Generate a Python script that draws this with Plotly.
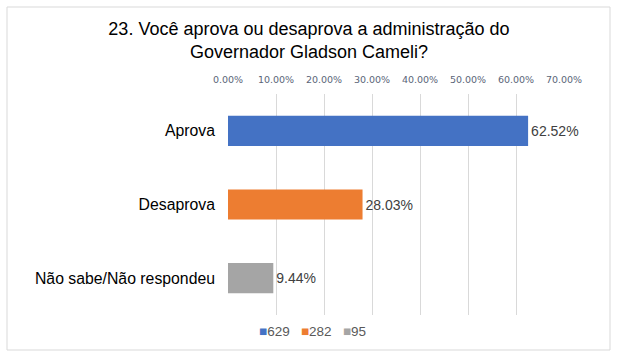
import plotly.graph_objects as go

categories = ["Aprova", "Desaprova", "Não sabe/Não respondeu"]
values = [0.6252, 0.2803, 0.0944]
counts = ["629", "282", "95"]
colors = ["#4472C4", "#ED7D31", "#A5A5A5"]
tick_vals = [0, 0.1, 0.2, 0.3, 0.4, 0.5, 0.6, 0.7]

fig = go.Figure()
for cat, val, name, col in zip(categories, values, counts, colors):
    fig.add_trace(go.Bar(
        y=[cat], x=[val], orientation="h", name=name,
        marker=dict(color=col, line=dict(width=0)),
        text=[f"{val*100:.2f}%"], textposition="outside",
        textfont=dict(family="Liberation Sans", size=14, color="#404040"),
        cliponaxis=False, showlegend=False,
    ))

W, H = 618, 360
L, R, T, B = 228, 54, 94, 45
pw, ph = W - L - R, H - T - B

def px(x):
    return (x - L) / pw

def py(y):
    return (H - B - y) / ph

legend_text = "&nbsp;&nbsp;&nbsp;".join(
    f"<span style='color:{c}'>■</span>{n}" for n, c in zip(counts, colors)
)

fig.update_layout(
    width=W, height=H,
    margin=dict(l=L, r=R, t=T, b=B, autoexpand=False),
    paper_bgcolor="white", plot_bgcolor="white",
    barmode="overlay", bargap=0.59,
    title=dict(
        text="23. Você aprova ou desaprova a administração do<br>Governador Gladson Cameli?",
        x=0.5, xanchor="center", y=1 - 35 / H, yanchor="middle",
        font=dict(family="Liberation Sans", size=18, color="#000000"),
    ),
    xaxis=dict(
        side="top", range=[0, 0.7], tickvals=tick_vals, tickformat=".2%",
        showgrid=True, gridcolor="#D9D9D9", gridwidth=1, zeroline=False,
        showline=False, ticks="", ticklabelstandoff=8, automargin=False,
        tickfont=dict(family="DejaVu Sans", size=9.5, color="#5A6478"),
    ),
    yaxis=dict(
        categoryorder="array", categoryarray=categories, autorange="reversed",
        showgrid=False, zeroline=False, showline=False, ticks="",
        ticklabelstandoff=12, automargin=False,
        tickfont=dict(family="Liberation Sans", size=15.8, color="#000000"),
    ),
    annotations=[dict(
        text=legend_text, xref="paper", yref="paper",
        x=px(312), y=py(331), xanchor="center", yanchor="middle",
        showarrow=False,
        font=dict(family="Liberation Sans", size=13.5, color="#595959"),
    )],
    shapes=[dict(
        type="rect", xref="paper", yref="paper",
        x0=px(7), x1=px(610), y0=py(350), y1=py(7),
        line=dict(color="#D9D9D9", width=1), fillcolor="rgba(0,0,0,0)", layer="below",
    )],
)

fig.write_html(
    "out.html",
    config={"displayModeBar": False},
    post_script="document.body.style.margin='0';document.body.style.padding='0';",
)
